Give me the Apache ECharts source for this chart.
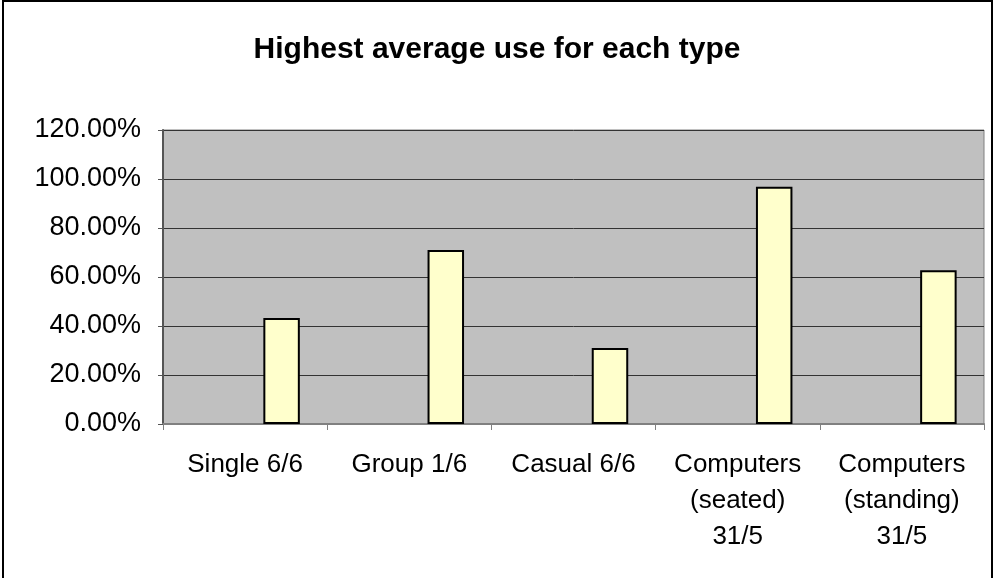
<!DOCTYPE html>
<html>
<head>
<meta charset="utf-8">
<script src="https://cdn.jsdelivr.net/npm/echarts@6/dist/echarts.min.js"></script>
<style>
html,body{margin:0;padding:0;background:#fff;}
#chart{width:994px;height:578px;}
</style>
</head>
<body>
<div id="chart"></div>
<script>
var titleText = 'Highest average use for each type';
var categories = ['Single 6/6', 'Group 1/6', 'Casual 6/6', 'Computers\n(seated)\n31/5', 'Computers\n(standing)\n31/5'];
var values = [0.433, 0.710, 0.310, 0.968, 0.628];
var yTicks = [0, 0.2, 0.4, 0.6, 0.8, 1.0, 1.2];

var chart = echarts.init(document.getElementById('chart'));
var FONT = '"Liberation Sans", Arial, sans-serif';
var empty = categories.map(function(){ return '-'; });

chart.setOption({
  animation: false,
  backgroundColor: '#ffffff',
  title: {
    text: titleText,
    left: 'center',
    top: 30,
    textStyle: { fontFamily: FONT, fontSize: 30, fontWeight: 'bold', color: '#000' }
  },
  graphic: [{
    type: 'rect',
    shape: { x: 3, y: 1, width: 989, height: 580 },
    style: { fill: 'none', stroke: '#000', lineWidth: 2 },
    z: 100
  }],
  grid: {
    left: 163, right: 10, top: 130, bottom: 154,
    show: true, backgroundColor: '#c0c0c0', borderColor: '#808080', borderWidth: 1
  },
  xAxis: {
    type: 'category',
    data: categories,
    axisLine: { lineStyle: { color: '#808080', width: 2 } },
    axisTick: { show: true, length: 6, lineStyle: { color: '#808080', width: 1 } },
    axisLabel: {
      fontFamily: FONT, fontSize: 26, color: '#000', margin: 23,
      lineHeight: 36, interval: 0
    }
  },
  yAxis: {
    type: 'value',
    min: 0, max: 1.2, interval: 0.2,
    axisLine: { show: true, lineStyle: { color: '#555', width: 2 } },
    axisTick: { show: true, length: 5, lineStyle: { color: '#555', width: 1 } },
    splitLine: { show: true, lineStyle: { color: '#333', width: 1 } },
    axisLabel: {
      fontFamily: FONT, fontSize: 27, color: '#000', margin: 22,
      formatter: function (v) { return (v * 100).toFixed(2) + '%'; }
    }
  },
  series: [
    { type: 'bar', data: empty, barGap: '0%', barCategoryGap: '33.33%' },
    { type: 'bar', data: empty, barGap: '0%', barCategoryGap: '33.33%' },
    {
      type: 'bar', data: values, barGap: '0%', barCategoryGap: '33.33%',
      itemStyle: { color: '#ffffcc', borderColor: '#000', borderWidth: 2 }
    }
  ]
});
</script>
</body>
</html>
